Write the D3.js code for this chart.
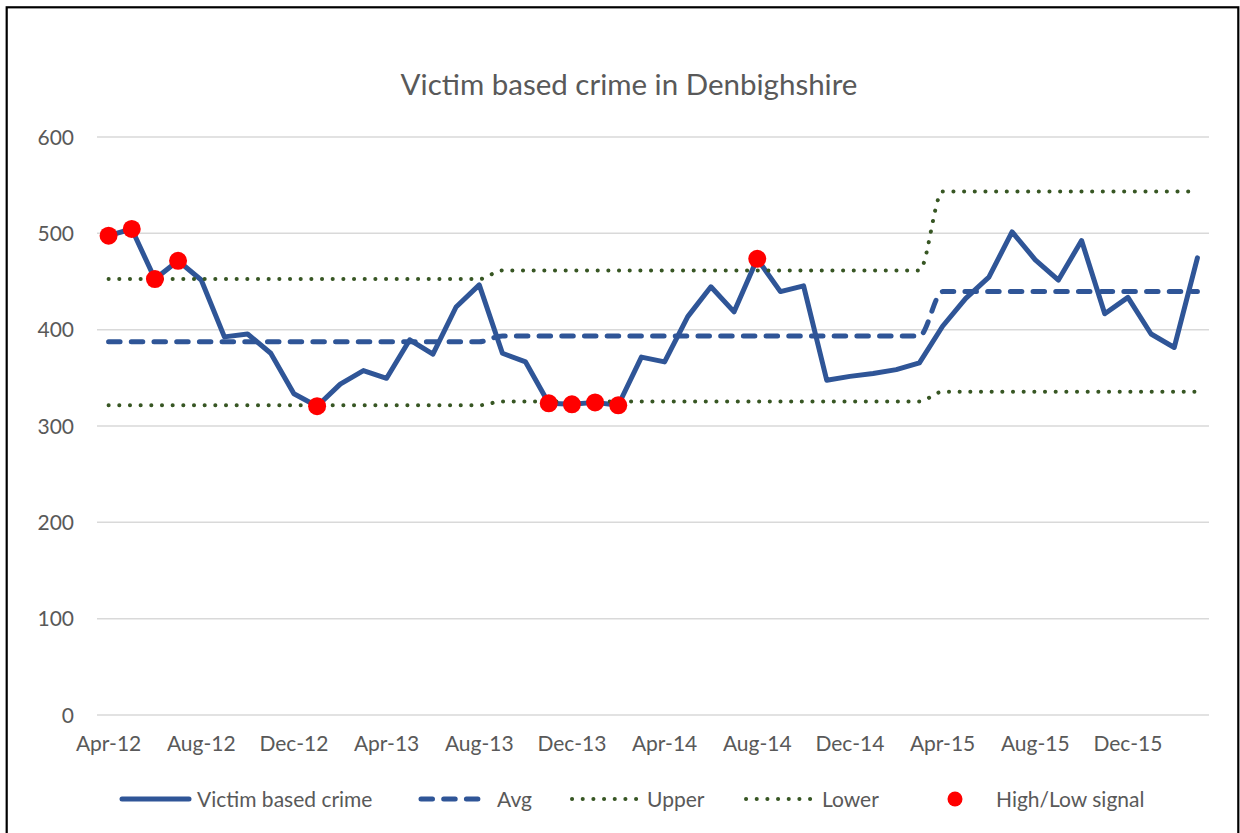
<!DOCTYPE html>
<html>
<head>
<meta charset="utf-8">
<script src="https://cdn.jsdelivr.net/npm/d3@7"></script>
<style>
  html, body { margin: 0; padding: 0; background: #fff; }
  svg { display: block; }
  text { font-family: Lato, "Open Sans", sans-serif; fill: #595959; }
</style>
</head>
<body>
<svg id="chart" width="1240" height="833"></svg>
<script>
// ---- Data ----
const months = [
  "Apr-12","May-12","Jun-12","Jul-12","Aug-12","Sep-12","Oct-12","Nov-12","Dec-12","Jan-13","Feb-13","Mar-13",
  "Apr-13","May-13","Jun-13","Jul-13","Aug-13","Sep-13","Oct-13","Nov-13","Dec-13","Jan-14","Feb-14","Mar-14",
  "Apr-14","May-14","Jun-14","Jul-14","Aug-14","Sep-14","Oct-14","Nov-14","Dec-14","Jan-15","Feb-15","Mar-15",
  "Apr-15","May-15","Jun-15","Jul-15","Aug-15","Sep-15","Oct-15","Nov-15","Dec-15","Jan-16","Feb-16","Mar-16"
];
const crime = [
  497, 504, 452, 471, 451, 392, 395, 375, 333, 320, 343, 357,
  349, 389, 374, 423, 446, 375, 366, 323, 322, 324, 321, 371,
  366, 413, 444, 418, 473, 439, 445, 347, 351, 354, 358, 365,
  403, 432, 454, 501, 472, 451, 492, 416, 433, 395, 381, 474
];
// Apr-12..Aug-13 (17), Sep-13..Mar-15 (19), Apr-15..Mar-16 (12)
const avg = [
  387,387,387,387,387,387,387,387,387,387,387,387,387,387,387,387,387,
  393,393,393,393,393,393,393,393,393,393,393,393,393,393,393,393,393,393,393,
  439,439,439,439,439,439,439,439,439,439,439,439
];
const upper = [
  452,452,452,452,452,452,452,452,452,452,452,452,452,452,452,452,452,
  461,461,461,461,461,461,461,461,461,461,461,461,461,461,461,461,461,461,461,
  543,543,543,543,543,543,543,543,543,543,543,543
];
const lower = [
  321,321,321,321,321,321,321,321,321,321,321,321,321,321,321,321,321,
  325,325,325,325,325,325,325,325,325,325,325,325,325,325,325,325,325,325,325,
  335,335,335,335,335,335,335,335,335,335,335,335
];
const signalMonths = ["Apr-12","May-12","Jun-12","Jul-12","Jan-13","Nov-13","Dec-13","Jan-14","Feb-14","Aug-14"];
const yTicks = [0, 100, 200, 300, 400, 500, 600];
const xTickLabels = ["Apr-12","Aug-12","Dec-12","Apr-13","Aug-13","Dec-13","Apr-14","Aug-14","Dec-14","Apr-15","Aug-15","Dec-15"];
const title = "Victim based crime in Denbighshire";
const legendItems = ["Victim based crime", "Avg", "Upper", "Lower", "High/Low signal"];

// ---- Styles ----
const BLUE = "#2F5597", GREEN = "#375623", RED = "#FF0000", GRID = "#D9D9D9";

const svg = d3.select("#chart");
const pLeft = 97, pRight = 1209, pTop = 136.5, pBottom = 714.5;

const x = d3.scaleBand().domain(months).range([pLeft, pRight]).padding(0);
const cx = m => x(m) + x.bandwidth() / 2;
const y = d3.scaleLinear().domain([0, 600]).range([pBottom, pTop]);

// border
svg.append("rect").attr("x", 6.7).attr("y", 7.3).attr("width", 1231.6).attr("height", 900)
  .attr("fill", "none").attr("stroke", "#000").attr("stroke-width", 2.2);

// title
svg.append("text").attr("x", 629).attr("y", 95).attr("text-anchor", "middle")
  .style("font-size", "29.5px").text(title);

// gridlines + y axis
const yAxis = d3.axisLeft(y).tickValues(yTicks).tickSize(-(pRight - pLeft)).tickPadding(23);
const gy = svg.append("g").attr("transform", `translate(${pLeft},0)`).call(yAxis);
gy.select(".domain").remove();
gy.selectAll(".tick line").attr("stroke", GRID).attr("stroke-width", 1.5);
gy.selectAll(".tick text").style("font-size", "21px").attr("fill", "#595959").attr("dy", "0.36em");

// x axis labels
const xAxis = d3.axisBottom(x).tickValues(xTickLabels).tickSize(0).tickPadding(22);
const gx = svg.append("g").attr("transform", `translate(0,${pBottom})`).call(xAxis);
gx.select(".domain").remove();
gx.selectAll(".tick text").style("font-size", "21px").attr("fill", "#595959");

// lines
const lineLin = d3.line().x((d, i) => cx(months[i])).y(d => y(d));
const lineSmooth = d3.line().x((d, i) => cx(months[i])).y(d => y(d)).curve(d3.curveMonotoneX);

svg.append("path").datum(crime).attr("d", lineLin)
  .attr("fill", "none").attr("stroke", BLUE).attr("stroke-width", 5)
  .attr("stroke-linejoin", "round").attr("stroke-linecap", "round");

svg.append("path").datum(avg).attr("d", lineSmooth)
  .attr("fill", "none").attr("stroke", BLUE).attr("stroke-width", 5)
  .attr("stroke-linecap", "round").attr("stroke-dasharray", "11.5,11.2");

[upper, lower].forEach(arr => {
  svg.append("path").datum(arr).attr("d", lineSmooth)
    .attr("fill", "none").attr("stroke", GREEN).attr("stroke-width", 4)
    .attr("stroke-linecap", "round").attr("stroke-dasharray", "0.1,10.57");
});

// signals
const idx = {};
months.forEach((m, i) => idx[m] = i);
svg.selectAll("circle.sig").data(signalMonths).enter().append("circle")
  .attr("class", "sig").attr("cx", m => cx(m)).attr("cy", m => y(crime[idx[m]]))
  .attr("r", 9).attr("fill", RED);

// legend
const ly = 799;
const lg = svg.append("g");
lg.append("line").attr("x1", 122).attr("x2", 189).attr("y1", ly).attr("y2", ly)
  .attr("stroke", BLUE).attr("stroke-width", 5).attr("stroke-linecap", "round");
lg.append("text").attr("x", 197).attr("y", ly).attr("dy", "0.36em").style("font-size", "21px").text(legendItems[0]);
lg.append("line").attr("x1", 421).attr("x2", 487).attr("y1", ly).attr("y2", ly)
  .attr("stroke", BLUE).attr("stroke-width", 5).attr("stroke-linecap", "round").attr("stroke-dasharray", "11.5,11.2");
lg.append("text").attr("x", 497).attr("y", ly).attr("dy", "0.36em").style("font-size", "21px").text(legendItems[1]);
lg.append("line").attr("x1", 572).attr("x2", 638).attr("y1", ly).attr("y2", ly)
  .attr("stroke", GREEN).attr("stroke-width", 4).attr("stroke-linecap", "round").attr("stroke-dasharray", "0.1,10.57");
lg.append("text").attr("x", 647).attr("y", ly).attr("dy", "0.36em").style("font-size", "21px").text(legendItems[2]);
lg.append("line").attr("x1", 746).attr("x2", 813).attr("y1", ly).attr("y2", ly)
  .attr("stroke", GREEN).attr("stroke-width", 4).attr("stroke-linecap", "round").attr("stroke-dasharray", "0.1,10.57");
lg.append("text").attr("x", 822).attr("y", ly).attr("dy", "0.36em").style("font-size", "21px").text(legendItems[3]);
lg.append("circle").attr("cx", 955).attr("cy", ly).attr("r", 7.5).attr("fill", RED);
lg.append("text").attr("x", 996).attr("y", ly).attr("dy", "0.36em").style("font-size", "21px").text(legendItems[4]);
</script>
</body>
</html>
